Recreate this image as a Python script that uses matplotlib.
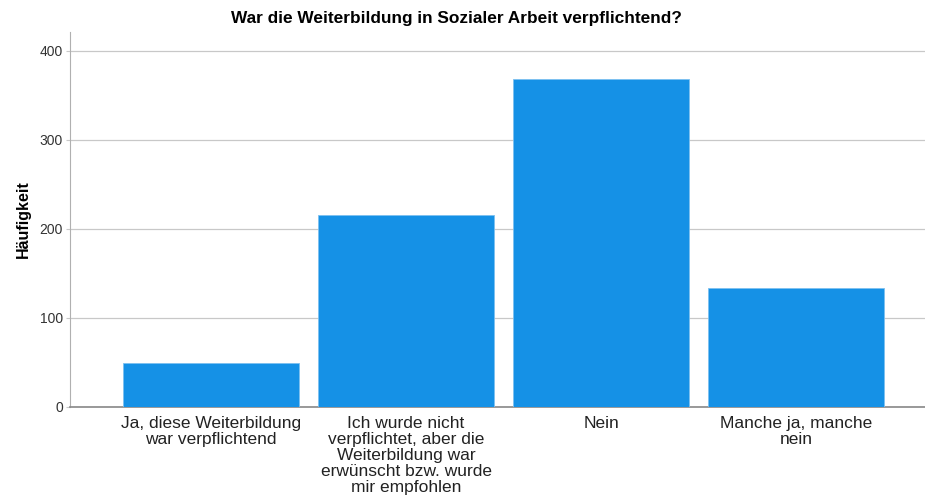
import matplotlib
matplotlib.use("Agg")
import matplotlib.pyplot as plt

categories = [
    "Ja, diese Weiterbildung\nwar verpflichtend",
    "Ich wurde nicht\nverpflichtet, aber die\nWeiterbildung war\nerwünscht bzw. wurde\nmir empfohlen",
    "Nein",
    "Manche ja, manche\nnein",
]
counts = [49, 215, 368, 133]
yticks = [0, 100, 200, 300, 400]

plt.rcParams['font.family'] = ['Liberation Sans', 'DejaVu Sans']

W, H = 925, 504
fig = plt.figure(figsize=(W / 100, H / 100), dpi=100)
ax = fig.add_axes([70 / W, 1 - 406.7 / H, 1 - 70 / W, (406.7 - 32) / H])

x = list(range(len(categories)))
ax.bar(x, counts, width=0.9, color="#1591e6", edgecolor="#7cc0f0", linewidth=0.6, zorder=3)

ax.set_xlim(-0.723, 3.66)
ax.set_ylim(0, 421)
ax.set_yticks(yticks)
ax.set_yticklabels([str(v) for v in yticks], fontsize=10, color="#333333")
ax.yaxis.grid(True, color="#c8c8c8", linewidth=0.9, zorder=0)
ax.set_axisbelow(True)
ax.tick_params(axis='y', length=3, color="#c8c8c8", pad=2)
ax.set_xticks(x)
ax.set_xticklabels(categories, fontsize=12.5, color="#222222", linespacing=1.08)
ax.tick_params(axis='x', length=0, pad=7)

for s in ["top", "right"]:
    ax.spines[s].set_visible(False)
ax.spines["left"].set_color("#b0b0b0")
ax.spines["bottom"].set_color("#888888")
ax.spines["bottom"].set_linewidth(1.2)

ax.set_ylabel("Häufigkeit", fontsize=11.5, fontweight="bold", labelpad=6)
fig.text(456 / W, 1 - 18 / H, "War die Weiterbildung in Sozialer Arbeit verpflichtend?",
         ha="center", va="center", fontsize=12.4, fontweight="bold")

fig.savefig("out.png", dpi=100)
